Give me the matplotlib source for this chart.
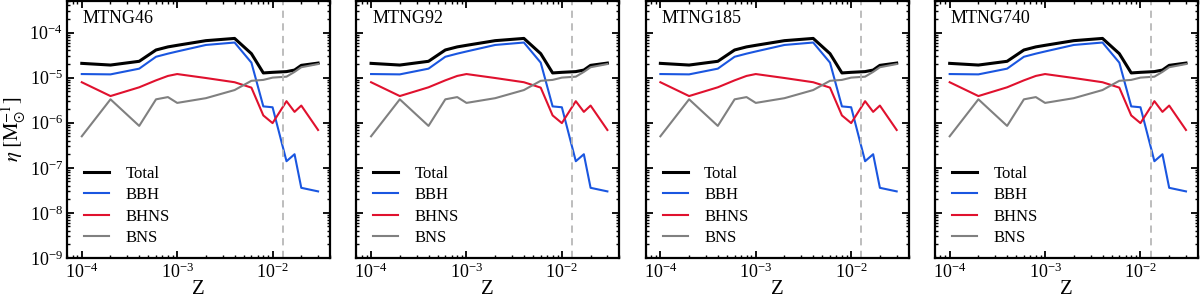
import numpy as np
import matplotlib
matplotlib.use('Agg')
import matplotlib.pyplot as plt

plt.rcParams['font.family'] = ['Liberation Serif', 'DejaVu Serif']
plt.rcParams['mathtext.fontset'] = 'stix'

# metallicity grid
Z = [1e-4, 2e-4, 4e-4, 6e-4, 8e-4, 1e-3, 2e-3, 4e-3, 6e-3, 8e-3, 1e-2, 1.4e-2, 1.7e-2, 2e-2, 3e-2]

eta_total = [2.07e-5, 1.9e-5, 2.3e-5, 4.1e-5, 4.8e-5, 5.2e-5, 6.6e-5, 7.4e-5, 3.4e-5,
             1.27e-5, 1.31e-5, 1.36e-5, 1.47e-5, 1.87e-5, 2.1e-5]
eta_bbh = [1.2e-5, 1.18e-5, 1.58e-5, 2.9e-5, 3.4e-5, 3.8e-5, 5.3e-5, 6.0e-5, 2.15e-5,
           2.3e-6, 2.2e-6, 1.4e-7, 2.0e-7, 3.6e-8, 3.0e-8]
eta_bhns = [7.9e-6, 3.9e-6, 6.1e-6, 8.7e-6, 1.09e-5, 1.2e-5, 9.8e-6, 7.9e-6, 6.0e-6,
            1.45e-6, 9.8e-7, 3.0e-6, 1.74e-6, 2.4e-6, 6.9e-7]
eta_bns = [5.0e-7, 3.3e-6, 8.5e-7, 3.3e-6, 3.7e-6, 2.75e-6, 3.5e-6, 5.3e-6, 8.5e-6,
           8.9e-6, 1.0e-5, 1.05e-5, 1.34e-5, 1.7e-5, 2.0e-5]

runs = ['MTNG46', 'MTNG92', 'MTNG185', 'MTNG740']
Z_sun = 0.0128

fig = plt.figure(figsize=(12, 2.98), dpi=100)

for i, run in enumerate(runs):
    ax = fig.add_axes([(67 + 289.3 * i) / 1200, 40 / 298, 263 / 1200, 257 / 298])
    ax.plot(Z, eta_total, color='black', lw=2.2, label='Total')
    ax.plot(Z, eta_bbh, color='#1a56e0', lw=1.5, label='BBH')
    ax.plot(Z, eta_bhns, color='#e0112e', lw=1.5, label='BHNS')
    ax.plot(Z, eta_bns, color='#808080', lw=1.5, label='BNS')
    ax.axvline(Z_sun, color='#b8b8b8', lw=1.3, ls=(0, (4, 3)))
    ax.set_xscale('log')
    ax.set_yscale('log')
    ax.set_xlim(7e-5, 4e-2)
    ax.set_ylim(1e-9, 5e-4)
    ax.tick_params(which='both', direction='in', top=True, right=True, labelsize=13)
    ax.tick_params(which='major', length=5, width=1.3, pad=3)
    ax.tick_params(which='minor', length=2.5, width=1.0)
    for s in ax.spines.values():
        s.set_linewidth(1.6)
    ax.set_xlabel('Z', fontsize=15, labelpad=-1)
    if i == 0:
        ax.set_ylabel(r'$\eta\;[\mathrm{M}_{\odot}^{-1}]$', fontsize=15, labelpad=2)
    else:
        ax.set_yticklabels([])
    ax.text(0.06, 0.965, run, transform=ax.transAxes, fontsize=13, va='top', ha='left')
    ax.legend(loc='lower left', frameon=False, fontsize=12, handlelength=1.5,
              handletextpad=1.0, labelspacing=0.33, borderaxespad=0.3,
              bbox_to_anchor=(0.02, 0.0))

fig.savefig('out.png', dpi=100)
